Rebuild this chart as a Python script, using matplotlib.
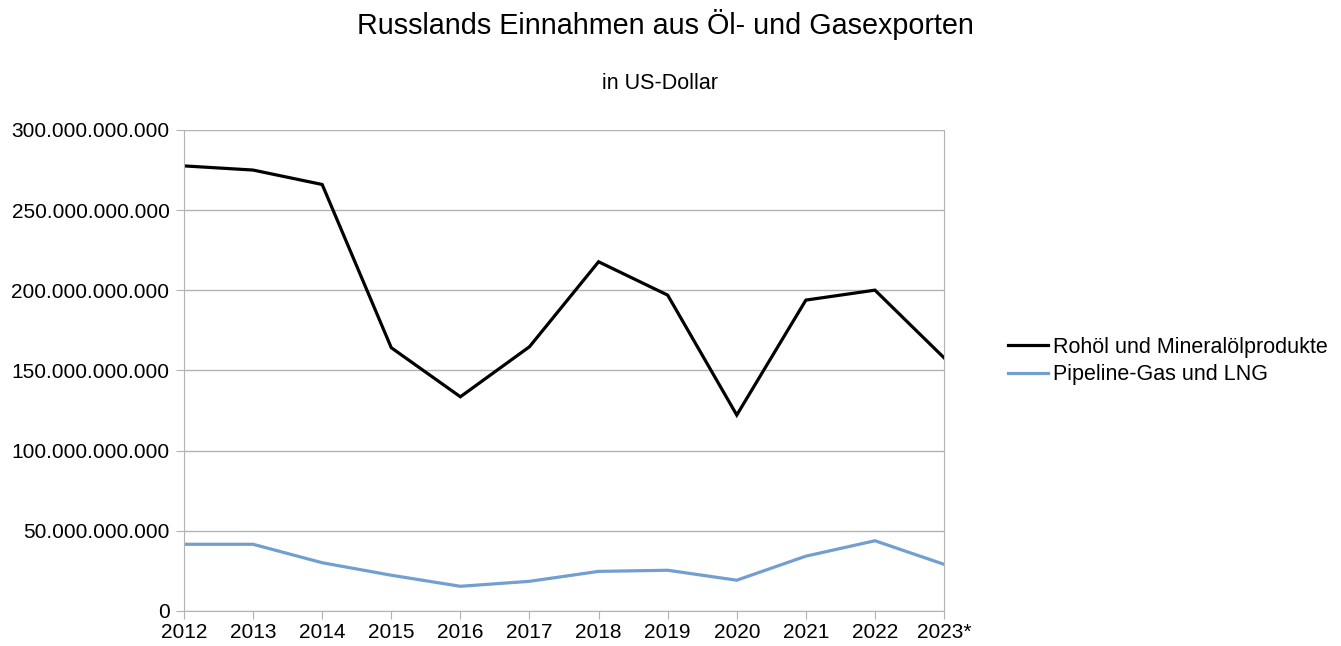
import matplotlib.pyplot as plt
from matplotlib.ticker import FuncFormatter

plt.rcParams['font.family'] = ['Liberation Sans', 'DejaVu Sans']

# Daten (in Mrd. US-Dollar)
jahre = ['2012', '2013', '2014', '2015', '2016', '2017', '2018', '2019', '2020', '2021', '2022', '2023*']
oel = [277.6, 275.0, 266.0, 164.2, 133.6, 164.8, 217.8, 197.0, 122.2, 193.9, 200.1, 157.9]
gas = [41.6, 41.6, 30.1, 22.3, 15.4, 18.5, 24.7, 25.4, 19.2, 34.2, 43.8, 29.1]
y_ticks = [0, 50, 100, 150, 200, 250, 300]


def tausender(v, pos):
    return f'{int(round(v * 1e9)):,}'.replace(',', '.')


fig = plt.figure(figsize=(13.41, 6.46), dpi=100)
ax = fig.add_axes([0.1372, 0.0542, 0.5668, 0.7446])

x = range(len(jahre))
ax.plot(x, oel, color='#000000', lw=2.3, label='Rohöl und Mineralölprodukte', solid_joinstyle='miter')
ax.plot(x, gas, color='#729fcf', lw=2.3, label='Pipeline-Gas und LNG', solid_joinstyle='miter')

ax.set_xlim(0, len(jahre) - 1)
ax.set_ylim(0, 300)
ax.set_yticks(y_ticks)
ax.yaxis.set_major_formatter(FuncFormatter(tausender))
ax.set_xticks(list(x))
ax.set_xticklabels(jahre)
ax.grid(axis='y', color='#b3b3b3', lw=1)
ax.set_axisbelow(True)
for s in ['left', 'right', 'bottom']:
    ax.spines[s].set_color('#b3b3b3')
ax.spines['top'].set_visible(False)
ax.tick_params(axis='both', colors='#b3b3b3', labelcolor='#000000', labelsize=15, length=5.5)
ax.tick_params(axis='x', pad=3)
ax.tick_params(axis='y', pad=5)

fig.text(0.496, 0.962, 'Russlands Einnahmen aus Öl- und Gasexporten', ha='center', va='center', fontsize=20.7)
fig.text(0.4925, 0.871, 'in US-Dollar', ha='center', va='center', fontsize=15.5)

ax.legend(loc='center left', bbox_to_anchor=(1.058, 0.52), frameon=False, fontsize=15.5,
          handlelength=1.9, handletextpad=0.2, labelspacing=0.3)

fig.savefig('out.png', dpi=100)
